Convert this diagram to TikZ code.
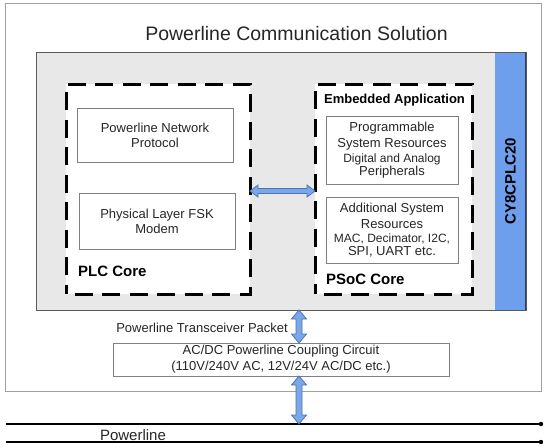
\documentclass[tikz,border=0pt]{standalone}
\usepackage{fontspec}
\setmainfont{Liberation Sans}
\usetikzlibrary{calc}
\definecolor{grayfill}{HTML}{E8E8E8}
\definecolor{grayline}{HTML}{5A5A5A}
\definecolor{outerline}{HTML}{A0A0A0}
\definecolor{boxline}{HTML}{808080}
\definecolor{stripfill}{HTML}{6E9FEC}
\definecolor{stripedge}{HTML}{2A3E6A}
\definecolor{arrowfill}{HTML}{7AA7E6}
\definecolor{arrowedge}{HTML}{4A74B4}
\definecolor{textgray}{HTML}{262626}
\newcommand\fmain{\fontsize{13}{13}\selectfont}
\newcommand\fsmall{\fontsize{12}{13}\selectfont}
\newcommand\flabel{\fontsize{15}{17}\selectfont\bfseries}
\begin{document}
\begin{tikzpicture}[x=1pt,y=-1pt,
  outerbox/.style={draw=outerline,line width=1pt,inner sep=0pt,outer sep=0pt},
  graybox/.style={draw=grayline,fill=grayfill,line width=1pt,inner sep=0pt,outer sep=0pt},
  stripbox/.style={fill=stripfill,inner sep=0pt,outer sep=0pt},
  dashbox/.style={draw=black,fill=white,line width=3pt,dash pattern=on 18pt off 9.5pt,dash phase=19pt,inner sep=0pt,outer sep=0pt},
  funcbox/.style={draw=boxline,fill=white,line width=0.9pt,inner sep=0pt,outer sep=0pt,align=center,font=\fmain,text=textgray},
  corelabel/.style={font=\flabel,inner sep=0pt},
  plain/.style={font=\fmain,inner sep=0pt,text=textgray},
  pline/.style={draw=black,line width=1.1pt},
  blockarrow/.style n args={3}{fill=arrowfill,draw=arrowedge,line width=0.8pt,
    to path={let \p1=(\tikztostart), \p2=(\tikztotarget),
      \n1={atan2(\y2-\y1,\x2-\x1)}, \n2={veclen(\x2-\x1,\y2-\y1)} in
      [shift={(\p1)},rotate=\n1]
      (0pt,0pt) -- (#1,#2) -- (#1,#3) -- ({\n2*1pt-#1},#3) -- ({\n2*1pt-#1},#2)
      -- ({\n2*1pt},0pt) -- ({\n2*1pt-#1},-#2) -- ({\n2*1pt-#1},-#3)
      -- (#1,-#3) -- (#1,-#2) -- cycle}}
]
\useasboundingbox (0,0) rectangle (550,448);

% outer frame and title
\node[outerbox,minimum width=536,minimum height=388] (outer) at (273,197) {};
\node[font=\fontsize{19.5}{21}\selectfont,inner sep=0pt,text=textgray] (title) at (296.5,34) {Powerline Communication Solution};

% chip area
\node[graybox,minimum width=490,minimum height=258] (chip) at (281,181) {};
\node[stripbox,minimum width=31,minimum height=257] (strip) at (510,181) {};
\draw[stripedge,line width=1.2pt] (strip.north east) -- (strip.south east);
\node[corelabel,rotate=90] (chipname) at (510.5,181) {CY8CPLC20};

% PLC core
\node[dashbox,minimum width=184,minimum height=210] (plc) at (158,189) {};
\node[funcbox,minimum width=156,minimum height=54] (proto) at (155,135) {Powerline Network\\[2pt]Protocol};
\node[funcbox,minimum width=156,minimum height=56] (modem) at (157,221) {Physical Layer FSK\\[2pt]Modem};
\node[corelabel,anchor=west] (plclabel) at (78,271) {PLC Core};

% PSoC core
\node[dashbox,minimum width=157,minimum height=210] (psoc) at (393.5,189) {};
\node[font=\fontsize{13}{15}\selectfont\bfseries,inner sep=0pt,anchor=base] (embed) at (394.5,103.5) {Embedded Application};
\node[funcbox,minimum width=132,minimum height=68] (progres) at (392,150)
  {Programmable\\[3pt]System Resources\\[2pt]\fsmall Digital and Analog\\Peripherals};
\node[funcbox,minimum width=132,minimum height=66] (addres) at (392,230)
  {Additional System\\[3pt]Resources\\[1pt]\fsmall MAC, Decimator, I2C,\\SPI, UART etc.};
\node[corelabel,anchor=west] (psoclabel) at (326,279) {PSoC Core};

% coupling circuit
\node[plain,anchor=east] (packet) at (288,328) {Powerline Transceiver Packet};
\node[funcbox,minimum width=336,minimum height=33] (acdc) at (281,359.5)
  {AC/DC Powerline Coupling Circuit\\[3pt](110V/240V AC, 12V/24V AC/DC etc.)};

% powerline
\coordinate (l1a) at (6,424);
\coordinate (l1b) at (541,424);
\coordinate (l2a) at (6,442);
\coordinate (l2b) at (541,442);
\draw[pline] (l1a) -- (l1b);
\draw[pline] (l2a) -- (l2b);
\fill (l1b) circle (2.2);
\fill (l2b) circle (2.2);
\node[font=\fontsize{15}{17}\selectfont,inner sep=0pt,anchor=base,text=textgray] (pltext) at (133,440.5) {Powerline};

% arrows
\draw[blockarrow={8pt}{6pt}{2.5pt}] (plc.east |- 0,191) to (psoc.west |- 0,191);
\draw[blockarrow={9pt}{7.5pt}{3pt}] (chip.south -| 299,0) to (acdc.north -| 299,0);
\draw[blockarrow={9pt}{7.5pt}{3pt}] (acdc.south -| 299,0) to (l1a -| 299,0);
\end{tikzpicture}
\end{document}
